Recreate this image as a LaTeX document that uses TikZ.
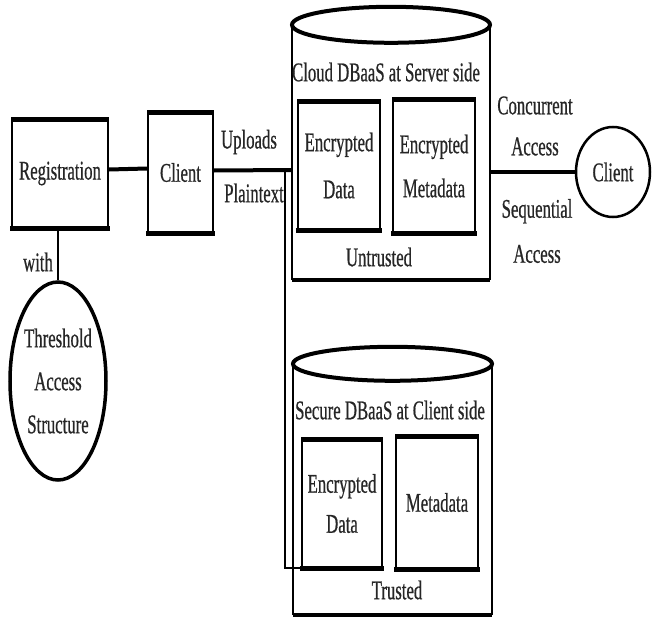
\documentclass[tikz,border=0pt]{standalone}
\usepackage{fontspec}
\setmainfont{Liberation Serif}[FakeStretch=0.62, FakeBold=0.6]
\usetikzlibrary{shapes.geometric}
\begin{document}
\begin{tikzpicture}[x=1pt,y=-1pt,
  every node/.style={font=\fontsize{27}{44}\selectfont, inner sep=0pt, align=center, text=black!85},
  box/.style={draw, line width=2pt},
  conn/.style={line width=4pt},
  thinconn/.style={line width=2pt},
  hedge/.style={line width=5pt, shorten <=-1pt, shorten >=-1pt},
  side/.style={line width=2pt},
  rim/.style={line width=4pt}]
\useasboundingbox (0,0) rectangle (653,618);
% left part
\node[box, minimum width=96pt, minimum height=107pt] (reg) at (60,173.5) {Registration};
\node[box, minimum width=65pt, minimum height=119pt] (cl1) at (180.5,172.5) {Client};
\node[draw, ellipse, line width=3.5pt, minimum width=96pt, minimum height=198pt,
      font=\fontsize{27}{43}\selectfont] (thr) at (58,381) {Threshold\\Access\\Structure};
\node (with) at (38,262) {with};
\node (upl) at (249,142) {Uploads};
\node (pla) at (254,193) {Plaintext};
% top cylinder
\node[minimum width=198pt, minimum height=255pt] (cyl1) at (391,152.5) {};
\draw[side] (cyl1.north west) -- (cyl1.south west);
\draw[side] (cyl1.north east) -- (cyl1.south east);
\draw[rim, line cap=square] (cyl1.south west) -- (cyl1.south east);
\draw[rim] (cyl1.north) ellipse [x radius=99pt, y radius=18pt];
\node (t1) at (386,72) {Cloud DBaaS at Server side};
\node[box, minimum width=82pt, minimum height=127pt, font=\fontsize{27}{47}\selectfont] (a1) at (339,165.5) {Encrypted\\Data};
\node[box, minimum width=82pt, minimum height=132pt, font=\fontsize{27}{44}\selectfont] (a2) at (434,166) {Encrypted\\Metadata};
\node (u1) at (379,257) {Untrusted};
% bottom cylinder
\node[minimum width=199pt, minimum height=251pt] (cyl2) at (392.5,489.5) {};
\draw[side] (cyl2.north west) -- (cyl2.south west);
\draw[side] (cyl2.north east) -- (cyl2.south east);
\draw[rim, line cap=square] (cyl2.south west) -- (cyl2.south east);
\draw[rim] (cyl2.north) ellipse [x radius=99.5pt, y radius=17pt];
\node (t2) at (390,410) {Secure DBaaS at Client side};
\node[box, minimum width=80pt, minimum height=127pt, font=\fontsize{27}{40}\selectfont] (b1) at (342,503.5) {Encrypted\\Data};
\node[box, minimum width=82pt, minimum height=131pt] (b2) at (437,502.5) {Metadata};
\node (tr) at (397,590) {Trusted};
% right client
\node[draw, ellipse, line width=2.5pt, minimum width=74pt, minimum height=90pt] (cl2) at (613,172) {Client};
\node[font=\fontsize{27}{41}\selectfont] (conc) at (535,126) {Concurrent\\Access};
\node[font=\fontsize{27}{45}\selectfont] (seq) at (537,231) {Sequential\\Access};
% thick horizontal edges of boxes
\foreach \n in {reg,cl1,a1,a2,b1,b2}
  \draw[hedge] (\n.north west) -- (\n.north east) (\n.south west) -- (\n.south east);
% connectors
\coordinate (j) at (285,170);
\draw[conn] ([yshift=4pt]reg.east) -- ([yshift=4pt]cl1.west);
\draw[conn] ([yshift=2pt]cl1.east) -- (cyl1.west |- j);
\draw[thinconn] (j) |- (b1.south west);
\draw[thinconn] (reg.south -| thr.north) -- (thr.north);
\draw[conn] (cyl1.east |- cl2) -- (cl2.west);
\end{tikzpicture}
\end{document}
